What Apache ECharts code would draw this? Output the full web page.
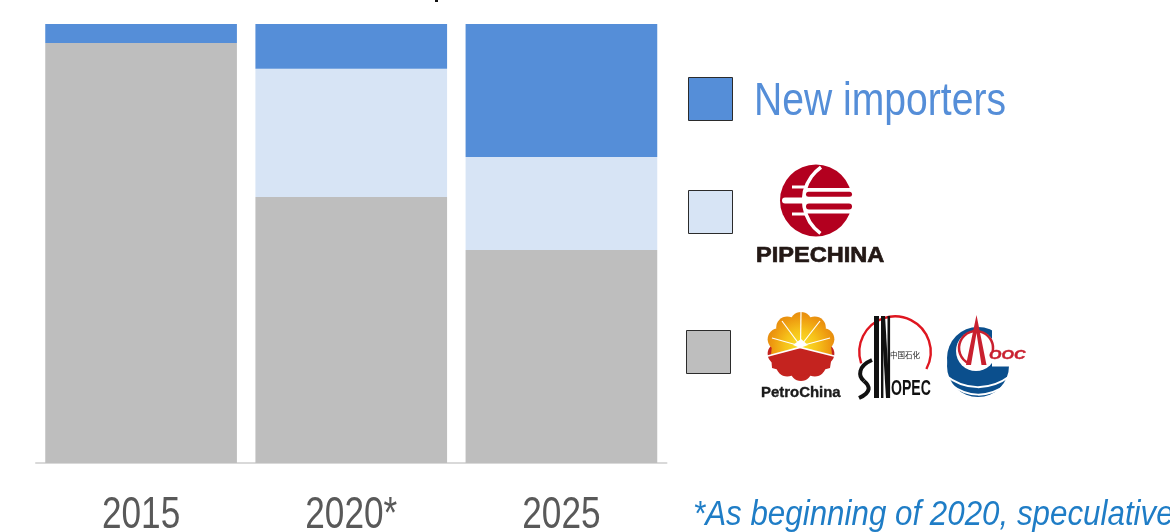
<!DOCTYPE html>
<html>
<head>
<meta charset="utf-8">
<style>html,body{margin:0;padding:0;background:#fff}#chart{width:1170px;height:532px}</style>
<script src="https://cdn.jsdelivr.net/npm/echarts@6/dist/echarts.min.js"></script>
</head>
<body>
<div id="chart"></div>
<script>
// Share of LNG import capacity access by group (percent)
const categories = ['2015', '2020*', '2025'];
const nationalMajors = [95.7, 60.6, 48.5];
const pipeChinaShare = [0, 29.2, 21.2];
const newImporters = [4.3, 10.2, 30.3];

const COLORS = { blue: '#558ed8', light: '#d7e4f5', grey: '#bebebe' };
const SANS = '"Liberation Sans",Arial,sans-serif';

const swatch = (x, y, fill) => ({
  type: 'rect', shape: { x: x + .5, y: y + .5, width: 44, height: 43 },
  style: { fill, stroke: '#2b2b2b', lineWidth: 1 }
});
const rect = (x, y, width, height, fill, r) => ({
  type: 'rect', shape: { x, y, width, height, r: r || 0 }, style: { fill }
});
// Text is squeezed horizontally with scaleX, anchored at its x position
const label = (x, y, text, font, fill, scaleX, extra) => ({
  type: 'text', x, y, scaleX: scaleX || 1,
  style: Object.assign({ text, font, fill, textVerticalAlign: 'middle' }, extra || {})
});
const arc = (cx, cy, r, startAngle, endAngle, stroke, lineWidth) => ({
  type: 'arc', shape: { cx, cy, r, startAngle, endAngle, clockwise: true },
  style: { stroke, lineWidth, fill: 'none' }
});
const circle = (cx, cy, r, fill) => ({ type: 'circle', shape: { cx, cy, r }, style: { fill } });
const poly = (points, fill) => ({ type: 'polygon', shape: { points }, style: { fill } });
const curve = (x1, y1, cpx1, cpy1, cpx2, cpy2, x2, y2, stroke, lineWidth) => ({
  type: 'bezierCurve', shape: { x1, y1, cpx1, cpy1, cpx2, cpy2, x2, y2 },
  style: { stroke, lineWidth, fill: 'none' }
});

// PipeChina mark
function pipeChinaMark() {
  const red = '#b3001f';
  return [
    circle(816, 200.5, 36, red),
    arc(844.4, 200.5, 40.7, 2.2, 4.1, '#fff', 3.6),
    rect(805, 188, 50, 25.5, '#fff'),
    rect(806, 191.7, 46, 5, red, 2.5),
    rect(806, 203.5, 46, 6, red, 3),
    rect(792, 185.5, 13, 3, '#fff'),
    rect(782, 197.5, 24, 6, '#fff', 3),
    rect(792, 212.5, 13, 3, '#fff'),
    label(756, 256, 'PIPECHINA', 'bold 22px ' + SANS, '#231815', 1.07, { stroke: '#231815', lineWidth: 0.7 })
  ];
}

// PetroChina shell mark
function petroChinaMark() {
  const cx = 801, cy = 346.5, parts = [];
  const glow = {
    type: 'radial', x: cx, y: cy, r: 36, global: true,
    colorStops: [{ offset: 0, color: '#fbe52c' }, { offset: 0.45, color: '#f6c21a' }, { offset: 0.8, color: '#ee9a10' }, { offset: 1, color: '#e58a0e' }]
  };
  const lobe = (deg, fill) => circle(
    cx + 23.5 * Math.cos(deg * Math.PI / 180),
    cy - 23.5 * Math.sin(deg * Math.PI / 180),
    11, fill
  );
  [198, 234, 270, 306, 342].forEach(d => parts.push(lobe(d, '#c4231f')));
  parts.push(poly([[771, 355], [800, 347], [832, 355], [830, 368], [801, 376], [772, 368]], '#c4231f'));
  [18, 54, 90, 126, 162].forEach(d => parts.push(lobe(d, glow)));
  parts.push(poly([[771, 355], [773, 335], [785, 322], [801, 317], [817, 322], [830, 335], [832, 355], [800, 347]], glow));
  [[772, 338], [782, 321], [801, 312], [820, 321], [830, 338]].forEach(p => parts.push({
    type: 'line', shape: { x1: 800.5, y1: 346, x2: p[0], y2: p[1] }, style: { stroke: '#fff', lineWidth: 1.2 }
  }));
  parts.push(poly([[793, 345], [801, 339], [808, 345], [800, 348]], '#fff'));
  parts.push({ type: 'polyline', shape: { points: [[766, 356.5], [800, 347.5], [836, 356.5]] }, style: { stroke: '#fff', lineWidth: 1.8, fill: 'none' } });
  parts.push(label(761, 392.5, 'PetroChina', 'bold 14.5px ' + SANS, '#1b1b1b', 1.03, { stroke: '#1b1b1b', lineWidth: 0.35 }));
  return parts;
}

// Sinopec ring and lettering
function sinopecMark() {
  const ink = '#111';
  return [
    arc(895, 352, 35.7, 2.82, 6.78, '#df1620', 2.4),
    rect(874, 316, 5, 82, ink),
    rect(881, 316, 2.4, 82, ink),
    rect(887.5, 316, 2.6, 82, ink),
    poly([[881, 316], [885, 316], [890, 398], [886, 398]], ink),
    curve(872, 360, 858, 366, 858, 376, 864, 381, ink, 4),
    curve(864, 381, 870, 386, 872, 392, 859, 398, ink, 4),
    label(891, 388.5, 'OPEC', 'bold 22px ' + SANS, ink, 0.64),
    label(890, 355, '中国石化', '7.5px "Noto Sans CJK SC"', '#222')
  ];
}

// CNOOC mark
function cnoocMark() {
  const blue = '#0b4f8d', red = '#c9202f';
  return [
    circle(978, 358, 31, blue),
    circle(978, 366, 31, blue),
    circle(976, 351, 20, '#fff'),
    rect(992, 322, 24, 44.5, '#fff'),
    curve(945, 375, 965, 391, 990, 391, 1010, 376, '#fff', 2),
    curve(950, 384, 968, 398, 988, 398, 1006, 385, '#fff', 2),
    arc(976, 348, 17, 2.0, 6.5, red, 2.5),
    poly([[976.5, 315], [966, 365], [971, 365], [976.5, 333], [981.5, 365], [986.5, 365]], red),
    label(989, 355.5, 'OOC', 'italic bold 13px ' + SANS, red, 1.23, { stroke: red, lineWidth: 0.4 })
  ];
}

const barSeries = (name, data, color) => ({
  name, type: 'bar', stack: 'total', data, barCategoryGap: '8.8%',
  itemStyle: { color }, silent: true, animation: false
});

const chart = echarts.init(document.getElementById('chart'), null, { renderer: 'canvas' });
chart.setOption({
  animation: false,
  grid: { left: 36, right: 503.5, top: 24, bottom: 69, outerBoundsMode: 'none' },
  xAxis: {
    type: 'category', data: categories,
    axisTick: { show: false },
    axisLine: { lineStyle: { color: '#d9d9d9', width: 2 } },
    axisLabel: { show: false }
  },
  yAxis: { type: 'value', min: 0, max: 100, show: false },
  series: [
    barSeries('National majors', nationalMajors, COLORS.grey),
    barSeries('PipeChina', pipeChinaShare, COLORS.light),
    barSeries('New importers', newImporters, COLORS.blue)
  ]
});

// Condensed year labels sit under their bars, placed through the category scale
const yearLabels = categories.map(c => label(
  chart.convertToPixel({ xAxisIndex: 0 }, c), 516, c, '44px ' + SANS, '#595959', 0.8, { textAlign: 'center' }
));

chart.setOption({
  graphic: { elements: [
    rect(435, 0, 3, 2, '#111'),
    swatch(688, 77, COLORS.blue),
    swatch(688, 190, COLORS.light),
    swatch(686, 330, COLORS.grey),
    label(754, 102, 'New importers', '46px ' + SANS, '#558ed8', 0.85),
    ...pipeChinaMark(),
    ...petroChinaMark(),
    ...sinopecMark(),
    ...cnoocMark(),
    ...yearLabels,
    label(693, 515, '*As beginning of 2020, speculative', 'italic 35px ' + SANS, '#1f7dc6', 0.895)
  ] }
});
</script>
</body>
</html>
